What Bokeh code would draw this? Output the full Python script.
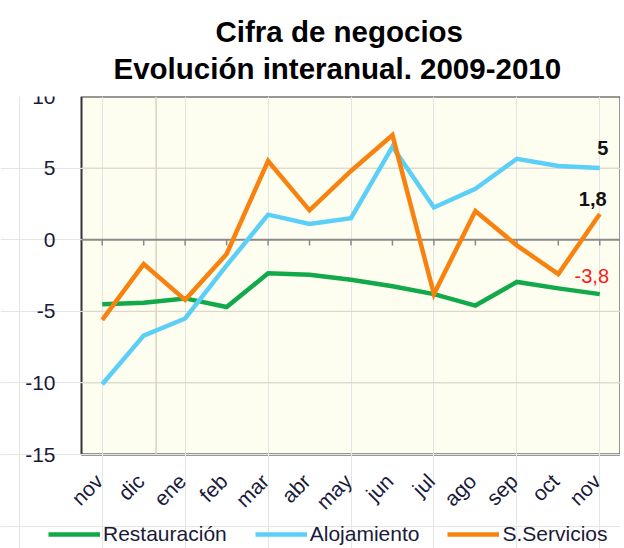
import math
from bokeh.plotting import figure
from bokeh.models import (Legend, LegendItem, Title, Range1d, ColumnDataSource, BoxAnnotation)
from bokeh.core.properties import value
from bokeh.embed import file_html
from bokeh.resources import INLINE

months = ["nov", "dic", "ene", "feb", "mar", "abr", "may", "jun", "jul", "ago", "sep", "oct", "nov"]
restauracion = [-4.5, -4.4, -4.1, -4.7, -2.35, -2.45, -2.8, -3.25, -3.8, -4.6, -2.95, -3.4, -3.8]
alojamiento = [-10.1, -6.7, -5.5, -1.8, 1.75, 1.1, 1.5, 6.5, 2.25, 3.55, 5.65, 5.15, 5.0]
servicios = [-5.6, -1.7, -4.2, -1.0, 5.5, 2.05, 4.8, 7.3, -3.8, 2.0, -0.4, -2.4, 1.8]
yticks = [10, 5, 0, -5, -10, -15]
gridvals = [5, -5, -10]
series_names = ["Restauración", "Alojamiento", "S.Servicios"]
colors = ["#12A94A", "#5CCFF8", "#F8820F"]

xs = list(range(len(months)))
FONT = "Liberation Sans"
TXT = "#1a1a3a"

y_top, y_bot = max(yticks), min(yticks)
x_lo, x_hi = -0.5, len(months) - 0.5

# frame covers the whole drawing; the chart box occupies a sub-area of it
CHART_W, LEFT = 539, 81
CHART_H, FRAME_H = 358, 452
ext_y = (y_top - y_bot) * FRAME_H / CHART_H
ext_x = (x_hi - x_lo) * LEFT / CHART_W

p = figure(frame_width=CHART_W + LEFT, frame_height=FRAME_H, output_backend="svg",
           toolbar_location=None, x_axis_location=None, y_axis_location=None,
           x_range=Range1d(x_lo - ext_x, x_hi), y_range=Range1d(y_top - ext_y, y_top),
           min_border_left=0, min_border_right=0, min_border_top=96, min_border_bottom=0)

p.background_fill_color = "white"
p.border_fill_color = "white"
p.outline_line_color = None

# chart area (cream box with dark border)
p.add_layout(BoxAnnotation(left=x_lo, right=x_hi, bottom=y_bot, top=y_top, level="image",
                           fill_color="#FDFDF0", fill_alpha=1,
                           line_color="#333333", line_width=2, line_alpha=1))

# titles
p.add_layout(Title(text="Evolución interanual. 2009-2010", align="left", text_font=FONT,
                   text_font_size="29.5px", text_font_style="bold", text_color="black",
                   offset=113, standoff=24), "above")
p.add_layout(Title(text="Cifra de negocios", align="left", text_font=FONT,
                   text_font_size="29.5px", text_font_style="bold", text_color="black",
                   offset=215, standoff=-20), "above")

# horizontal grid lines
p.segment(x0=[x_lo] * len(gridvals), y0=gridvals, x1=[x_hi] * len(gridvals), y1=gridvals,
          line_color="#D9D5C2", line_width=1)
# vertical separator inside chart box
p.segment(x0=[1.3], y0=[y_bot], x1=[1.3], y1=[y_top], line_color="#D9D5C2", line_width=1.5)
# zero line with ticks
p.segment(x0=[x_lo], y0=[0], x1=[x_hi], y1=[0], line_color="#8A8A8A", line_width=2)
p.segment(x0=xs, y0=[0] * len(xs), x1=xs, y1=[-0.4] * len(xs), line_color="#8A8A8A", line_width=1.5)

# y tick labels
p.text(x=[x_lo] * len(yticks), y=yticks, text=[str(t) for t in yticks],
       x_offset=-26, text_align="right", text_baseline="middle",
       text_font=value(FONT), text_font_size="21px", text_color=TXT)

# month labels (rotated), hung below the chart box
p.text(x=xs, y=[y_bot] * len(xs), text=months, angle=math.pi / 4,
       x_offset=-3, y_offset=23, text_align="right", text_baseline="middle",
       text_font=value(FONT), text_font_size="21px", text_color=TXT)

renderers = []
for name, ys, c in zip(series_names, [restauracion, alojamiento, servicios], colors):
    r = p.line(xs, ys, line_color=c, line_width=4.5, line_join="miter")
    renderers.append((name, r))

# end labels
last = len(xs) - 1
def fmt(v):
    s = ("%.1f" % v).replace(".", ",")
    return s[:-2] if s.endswith(",0") else s

lab = ColumnDataSource(dict(
    x=[last, last, last],
    y=[alojamiento[-1], servicios[-1], restauracion[-1]],
    t=[fmt(alojamiento[-1]), fmt(servicios[-1]), fmt(restauracion[-1])],
    c=["#111111", "#111111", "#FF1A1A"],
    st=["bold", "bold", "normal"],
    xo=[3, -7, -8],
    yo=[-13, -8, -11],
))
p.text(x="x", y="y", text="t", text_color="c", text_font_style="st", x_offset="xo", y_offset="yo",
       source=lab, text_font=value(FONT), text_font_size="20px",
       text_align="center", text_baseline="bottom")

legend = Legend(items=[LegendItem(label=n, renderers=[r]) for n, r in renderers],
                orientation="horizontal", location=(48, 2),
                label_text_font=FONT, label_text_font_size="21px", label_text_color=TXT,
                glyph_width=52, glyph_height=20, label_standoff=3, spacing=28,
                padding=0, margin=0, border_line_color=None, background_fill_alpha=0)
p.add_layout(legend, "center")

open("out.html", "w").write(file_html(p, INLINE))
